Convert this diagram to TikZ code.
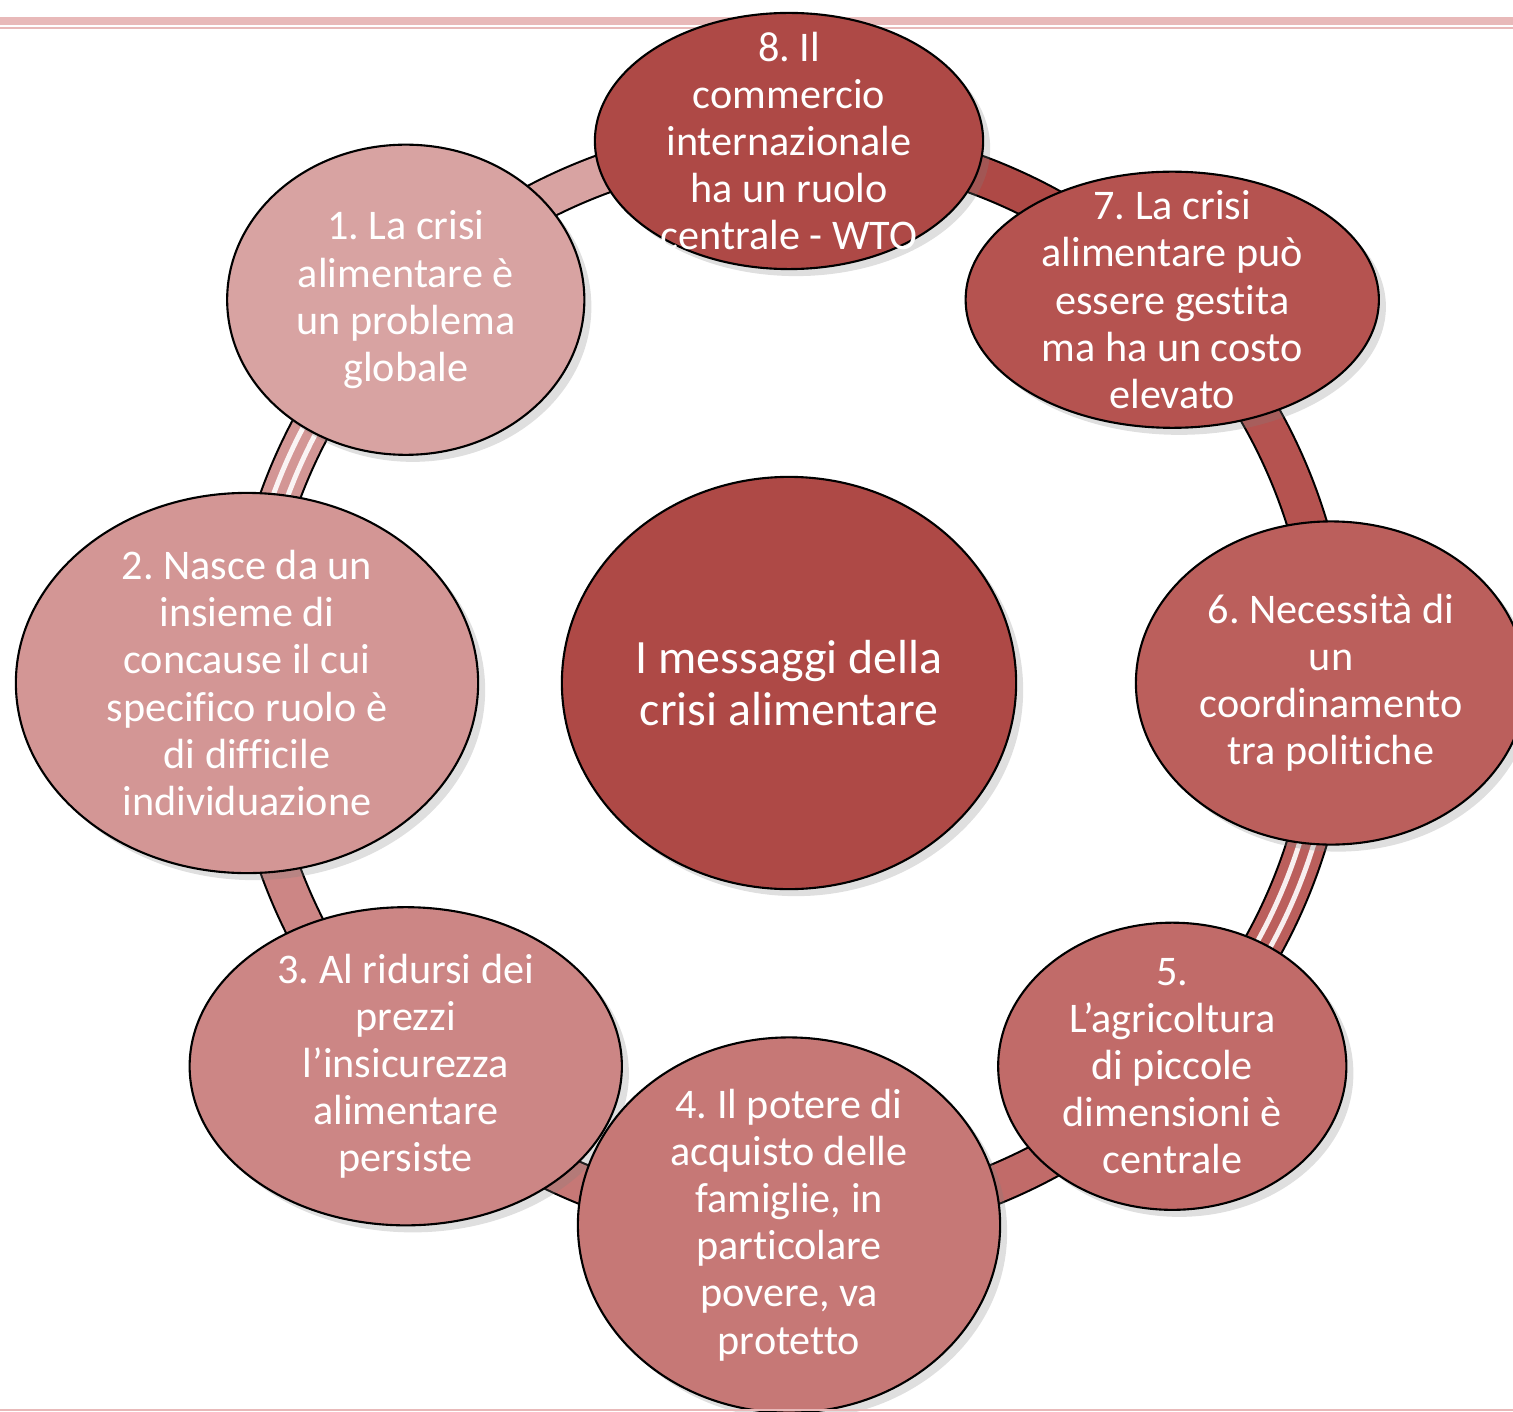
\documentclass[tikz,border=0pt]{standalone}
\usepackage{fontspec}
\setmainfont{Carlito}[Ligatures=NoCommon]
\usetikzlibrary{shapes.geometric,shadows,backgrounds}
\definecolor{rosa1}{HTML}{D8A3A2}
\definecolor{rosa2}{HTML}{D39695}
\definecolor{rosa3}{HTML}{CC8685}
\definecolor{rosa4}{HTML}{C67876}
\definecolor{rosa5}{HTML}{C16B69}
\definecolor{rosa6}{HTML}{BB5F5C}
\definecolor{rosa7}{HTML}{B55350}
\definecolor{rosa8}{HTML}{AE4946}
\definecolor{linea}{HTML}{E8B9B9}
\frenchspacing
\begin{document}
\begin{tikzpicture}[x=0.01cm,y=0.01cm,
  bolla/.style={ellipse,draw=black,line width=0.6pt,inner sep=0pt,
    drop shadow={opacity=0.25,shadow xshift=2pt,shadow yshift=-2pt}},
  testo/.style={text=white,align=center,font=\fontsize{12}{13.4}\selectfont},
  anello/.style={line width=0.6pt,double distance=0.37cm},
  righe/.style={white,line width=1.4pt,opacity=0.9}]
\newcommand\bolla[6]{
\node[bolla,fill=#2,minimum width=#4cm,minimum height=#5cm] (#1) at (#3:542) {};
\draw[white,opacity=0.55,line width=1.6pt] ([shift={(#1.center)}]145:{#4*46} and {#5*46})
  arc[start angle=145,end angle=215,x radius=#4*46,y radius=#5*46];
\node[testo] (t#1) at (#1) {#6};
}
\useasboundingbox (0,0) rectangle (1513,1411);
\begin{scope}[shift={(789,728)}]
\bolla{n1}{rosa1}{135}{3.57}{3.10}{1. La crisi\\alimentare è\\un problema\\globale}
\bolla{n2}{rosa2}{180}{4.62}{3.80}{2. Nasce da un\\insieme di\\concause il cui\\specifico ruolo è\\di difficile\\individuazione}
\bolla{n3}{rosa3}{-135}{4.32}{3.18}{3. Al ridursi dei\\prezzi\\l’insicurezza\\alimentare\\persiste}
\bolla{n4}{rosa4}{-90}{4.22}{3.75}{4. Il potere di\\acquisto delle\\famiglie, in\\particolare\\povere, va\\protetto}
\bolla{n5}{rosa5}{-45}{3.48}{2.87}{5.\\L’agricoltura\\di piccole\\dimensioni è\\centrale}
\bolla{n6}{rosa6}{0}{3.90}{3.23}{6. Necessità di\\un\\coordinamento\\tra politiche}
\bolla{n7}{rosa7}{45}{4.13}{2.56}{7. La crisi\\alimentare può\\essere gestita\\ma ha un costo\\elevato}
\bolla{n8}{rosa8}{90}{3.88}{2.56}{8. Il\\commercio\\internazionale\\ha un ruolo\\centrale - WTO}
\node[bolla,fill=rosa8,minimum width=4.54cm,minimum height=4.12cm] (centro) at (0,0) {};
\node[testo,font=\fontsize{13.6}{14.8}\selectfont] (tcentro) at (centro) {I messaggi della\\crisi alimentare};
% anello
\begin{pgfonlayer}{background}
\draw[anello,double=rosa1] (n1.center) arc[start angle=135,end angle=90,radius=542];
\draw[anello,double=rosa8] (n8.center) arc[start angle=90,end angle=45,radius=542];
\draw[anello,double=rosa7] (n7.center) arc[start angle=45,end angle=0,radius=542];
\draw[anello,double=rosa6] (n6.center) arc[start angle=0,end angle=-45,radius=542];
\draw[anello,double=rosa5] (n5.center) arc[start angle=-45,end angle=-90,radius=542];
\draw[anello,double=rosa4] (n4.center) arc[start angle=-90,end angle=-135,radius=542];
\draw[anello,double=rosa3] (n3.center) arc[start angle=-135,end angle=-180,radius=542];
\draw[anello,double=rosa2] (n2.center) arc[start angle=180,end angle=135,radius=542];
\foreach \r in {535,549}{
\draw[righe] (0:\r) arc[start angle=0,end angle=-45,radius=\r];
\draw[righe] (180:\r) arc[start angle=180,end angle=135,radius=\r];
}
\end{pgfonlayer}
\end{scope}
% righe in alto e in basso
\begin{pgfonlayer}{background}
\draw[linea,line width=0.074cm] (0,1390) -- (1513,1390);
\draw[linea,line width=0.025cm] (0,1383) -- (1513,1383);
\end{pgfonlayer}
\draw[linea,line width=0.02cm] (0,1) -- (1513,1);
\end{tikzpicture}
\end{document}
